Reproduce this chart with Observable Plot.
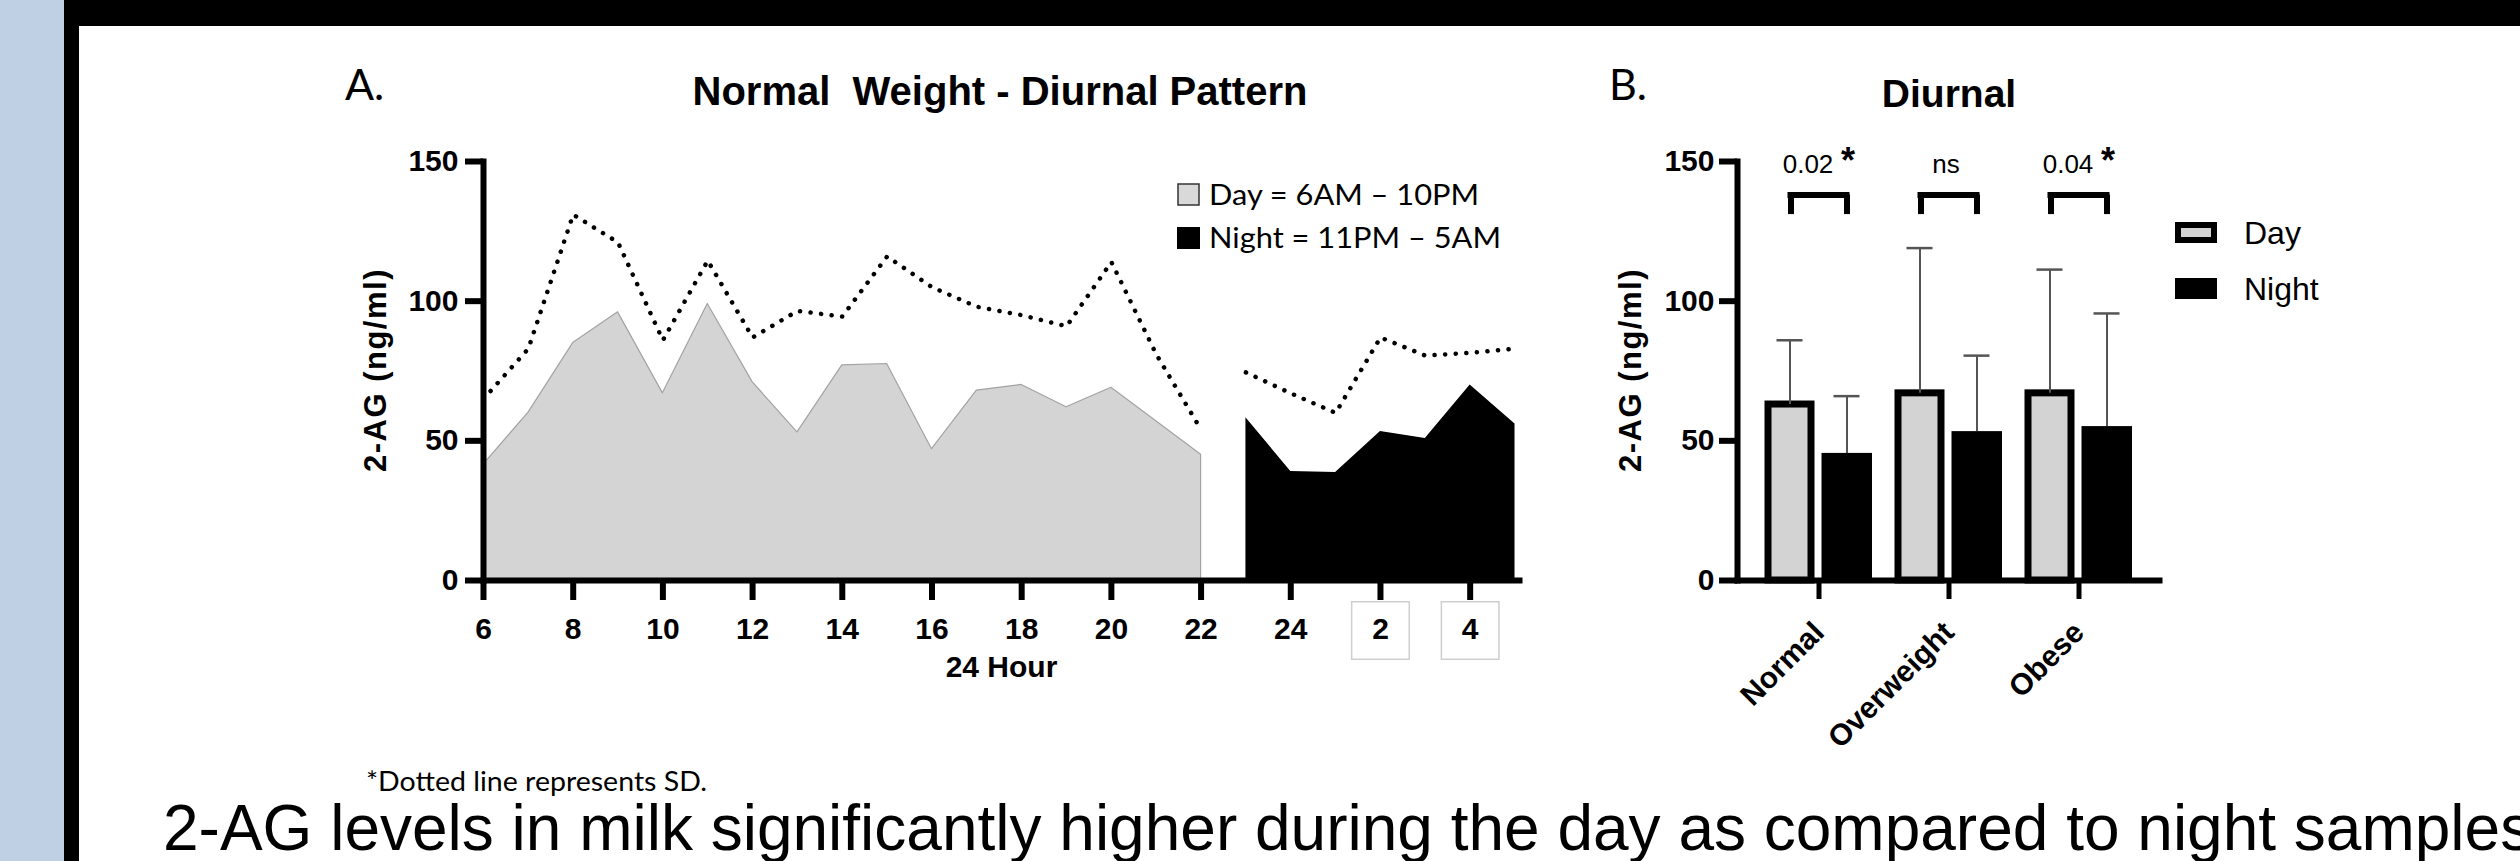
<!DOCTYPE html>
<html><head><meta charset="utf-8">
<script src="https://cdn.jsdelivr.net/npm/d3@7"></script>
<script src="https://cdn.jsdelivr.net/npm/@observablehq/plot@0.6"></script>
<style>
html,body{margin:0;padding:0;background:#fff;}
#page{position:relative;width:2520px;height:861px;overflow:hidden;background:#fff;}
#blue{position:absolute;left:0;top:0;width:64px;height:861px;background:#bfd0e5;}
#blackL{position:absolute;left:64px;top:0;width:15px;height:861px;background:#000;}
#blackT{position:absolute;left:64px;top:0;width:2456px;height:26px;background:#000;}
.abs{position:absolute;}
#overlay{position:absolute;left:0;top:0;}
</style></head>
<body><div id="page">
<div id="blue"></div><div id="blackL"></div><div id="blackT"></div>
<div id="chartA" class="abs" style="left:300px;top:130px;"></div>
<div id="chartB" class="abs" style="left:1560px;top:130px;"></div>
<svg id="overlay" width="2520" height="861"></svg>
</div>
<script>
// ---------- Panel A data ----------
const hoursDay   = [6, 7, 8, 9, 10, 11, 12, 13, 14, 15, 16, 17, 18, 19, 20, 21, 22];
const dayMean    = [41.5, 60, 85, 96, 67, 99, 71, 53, 77, 77.5, 47, 68, 70, 62, 69, 57, 45];
const dayUpper   = [65, 83, 131, 121, 86, 114.5, 87, 96.5, 94.5, 116, 105, 98, 95, 91, 114, 81, 54];
const hoursNight = [23, 24, 25, 26, 27, 28, 29];
const nightMean  = [58.3, 39, 38.7, 53.3, 50.8, 70, 56];
const nightUpper = [74.5, 67, 60, 87, 80.5, 81.5, 83];
const hourTicks  = [6, 8, 10, 12, 14, 16, 18, 20, 22, 24, 26, 28];
const hourLabels = ["6", "8", "10", "12", "14", "16", "18", "20", "22", "24", "2", "4"];
const boxedHours = [26, 28];
const yTicks     = [0, 50, 100, 150];

// ---------- Panel B data ----------
const groups   = ["Normal", "Overweight", "Obese"];
const dayBar   = [63, 67, 67];
const daySD    = [23, 52, 44.3];
const nightBar = [45.5, 53.3, 55.1];
const nightSD  = [20.5, 27.2, 40.5];
const pLabels  = ["0.02", "ns", "0.04"];
const pStars   = ["*", "", "*"];
const bracketTop = 138, bracketBottom = 131, pLevel = 149;

const ARIAL = "'Liberation Sans', Arial, Helvetica, sans-serif";
const CALIBRI = "Lato, 'Open Sans', sans-serif";

const dayRows = hoursDay.map((h, i) => ({hour: h, mean: dayMean[i], upper: dayUpper[i]}));
const nightRows = hoursNight.map((h, i) => ({hour: h, mean: nightMean[i], upper: nightUpper[i]}));
const labelOf = new Map(hourTicks.map((t, i) => [t, hourLabels[i]]));

const baseStyle = {background: "none", overflow: "visible", fontFamily: ARIAL, color: "#000"};
const dotted = {stroke: "#000", strokeWidth: 4.5, strokeDasharray: "0.1 10.5", strokeLinecap: "round"};

const plotA = Plot.plot({
  width: 1250, height: 580,
  marginLeft: 183, marginRight: 31, marginTop: 31, marginBottom: 130,
  style: baseStyle,
  x: {domain: [6, 29.1]},
  y: {domain: [0, 150]},
  marks: [
    Plot.areaY(dayRows, {x: "hour", y: "mean", fill: "#d4d4d4", stroke: "#a3a3a3", strokeWidth: 1.2}),
    Plot.areaY(nightRows, {x: "hour", y: "mean", fill: "#000"}),
    Plot.line(dayRows, {x: "hour", y: "upper", ...dotted}),
    Plot.line(nightRows, {x: "hour", y: "upper", ...dotted}),
    Plot.dot(boxedHours, {x: d => d, frameAnchor: "bottom", dy: 50, symbol: "square", r: 32.5, fill: "none", stroke: "#cfcfcf", strokeWidth: 1.5}),
    Plot.axisY({ticks: yTicks, tickSize: 18, tickPadding: 7, strokeWidth: 6, fontSize: 30, fontWeight: "bold", label: null}),
    Plot.axisX({ticks: hourTicks, tickFormat: d => labelOf.get(d), tickSize: 20, tickPadding: 17, strokeWidth: 6, fontSize: 30, fontWeight: "bold", label: null}),
    Plot.frame({anchor: "left", strokeWidth: 6}),
    Plot.frame({anchor: "bottom", strokeWidth: 6}),
    Plot.text(["24 Hour"], {frameAnchor: "bottom", dy: 96, fontSize: 30, fontWeight: "bold"})
  ]
});
document.getElementById("chartA").appendChild(plotA);

const rowsB = groups.map((g, i) => ({
  group: g, day: dayBar[i], daySD: daySD[i], night: nightBar[i], nightSD: nightSD[i],
  p: pLabels[i], star: pStars[i]
}));

const plotB = Plot.plot({
  width: 700, height: 580,
  marginLeft: 177, marginRight: 101, marginTop: 31, marginBottom: 130,
  style: baseStyle,
  x: {domain: groups, paddingInner: 0.177, paddingOuter: 0.2115, align: 0.5},
  y: {domain: [0, 150]},
  marks: [
    Plot.barY(rowsB, {x: "group", y: "day", fill: "#d3d3d3", stroke: "#000", strokeWidth: 7, insetLeft: 3, insetRight: 61}),
    Plot.barY(rowsB, {x: "group", y: "night", fill: "#000", insetLeft: 56.5, insetRight: 0}),
    Plot.ruleX(rowsB, {x: "group", y1: "day", y2: d => d.day + d.daySD, dx: -29, stroke: "#555", strokeWidth: 2}),
    Plot.tickY(rowsB, {x: "group", y: d => d.day + d.daySD, insetLeft: 11.5, insetRight: 69.5, stroke: "#555", strokeWidth: 2.5}),
    Plot.ruleX(rowsB, {x: "group", y1: "night", y2: d => d.night + d.nightSD, dx: 28, stroke: "#555", strokeWidth: 2}),
    Plot.tickY(rowsB, {x: "group", y: d => d.night + d.nightSD, insetLeft: 68.5, insetRight: 12.5, stroke: "#555", strokeWidth: 2.5}),
    Plot.tickY(rowsB, {x: "group", y: () => bracketTop, insetLeft: 25.5, insetRight: 25.5, stroke: "#000", strokeWidth: 6, strokeLinecap: "square"}),
    Plot.ruleX(rowsB, {x: "group", y1: () => bracketBottom, y2: () => bracketTop, dx: -28, stroke: "#000", strokeWidth: 6}),
    Plot.ruleX(rowsB, {x: "group", y1: () => bracketBottom, y2: () => bracketTop, dx: 28, stroke: "#000", strokeWidth: 6}),
    Plot.text(rowsB, {filter: d => d.star, x: "group", y: () => pLevel, text: "p", dx: -11, fontSize: 26}),
    Plot.text(rowsB, {filter: d => !d.star, x: "group", y: () => pLevel, text: "p", dx: -3, fontSize: 26}),
    Plot.text(rowsB, {filter: d => d.star, x: "group", y: () => pLevel, text: "star", dx: 29, dy: -3, fontSize: 36, fontWeight: "bold"}),
    Plot.axisY({ticks: yTicks, tickSize: 18, tickPadding: 5, strokeWidth: 6, fontSize: 30, fontWeight: "bold", label: null}),
    Plot.axisX({tickRotate: -45, tickSize: 19, tickPadding: 28, strokeWidth: 5, fontSize: 30, fontWeight: "bold", label: null}),
    Plot.frame({anchor: "left", strokeWidth: 6}),
    Plot.frame({anchor: "bottom", strokeWidth: 6})
  ]
});
document.getElementById("chartB").appendChild(plotB);

// ---------- Overlay texts: panel letters, titles, axis titles, legends, notes ----------
const ov = d3.select("#overlay");
ov.append("text").attr("x", 345).attr("y", 100).attr("font-family", CALIBRI).attr("font-size", 43).text("A.");
ov.append("text").attr("x", 1609).attr("y", 100).attr("font-family", CALIBRI).attr("font-size", 43).text("B.");
ov.append("text").attr("x", 1000).attr("y", 105).attr("text-anchor", "middle").attr("font-family", ARIAL)
  .attr("font-weight", "bold").attr("font-size", 40).style("white-space", "pre").text("Normal  Weight - Diurnal Pattern");
ov.append("text").attr("x", 1949).attr("y", 107).attr("text-anchor", "middle").attr("font-family", ARIAL)
  .attr("font-weight", "bold").attr("font-size", 39).text("Diurnal");

// y-axis titles
[[386, 370], [1641, 370]].forEach(([x, y]) => {
  ov.append("text").attr("transform", `translate(${x},${y}) rotate(-90)`).attr("text-anchor", "middle")
    .attr("font-family", ARIAL).attr("font-weight", "bold").attr("font-size", 31).attr("letter-spacing", 1.5)
    .text("2-AG (ng/ml)");
});

// legend A
ov.append("rect").attr("x", 1178).attr("y", 184).attr("width", 21).attr("height", 21).attr("fill", "#d9d9d9").attr("stroke", "#333").attr("stroke-width", 1.5);
ov.append("rect").attr("x", 1177).attr("y", 227).attr("width", 23).attr("height", 22).attr("fill", "#000");
ov.append("text").attr("x", 1209).attr("y", 205).attr("font-family", CALIBRI).attr("font-size", 29)
  .attr("textLength", 270).attr("lengthAdjust", "spacingAndGlyphs").text("Day = 6AM \u2013 10PM");
ov.append("text").attr("x", 1209).attr("y", 248).attr("font-family", CALIBRI).attr("font-size", 29)
  .attr("textLength", 292).attr("lengthAdjust", "spacingAndGlyphs").text("Night = 11PM \u2013 5AM");

// legend B
ov.append("rect").attr("x", 2178).attr("y", 225).attr("width", 36).attr("height", 15).attr("fill", "#d3d3d3").attr("stroke", "#000").attr("stroke-width", 6);
ov.append("rect").attr("x", 2175).attr("y", 278).attr("width", 42).attr("height", 21).attr("fill", "#000");
ov.append("text").attr("x", 2244).attr("y", 244).attr("font-family", ARIAL).attr("font-size", 32).text("Day");
ov.append("text").attr("x", 2244).attr("y", 300).attr("font-family", ARIAL).attr("font-size", 32).text("Night");

// notes
ov.append("text").attr("x", 366).attr("y", 791).attr("font-family", CALIBRI).attr("font-size", 27)
  .attr("textLength", 341).attr("lengthAdjust", "spacingAndGlyphs").text("*Dotted line represents SD.");
ov.append("text").attr("x", 163).attr("y", 850).attr("font-family", ARIAL).attr("font-size", 64)
  .text("2-AG levels in milk significantly higher during the day as compared to night samples");
</script>
</body></html>
